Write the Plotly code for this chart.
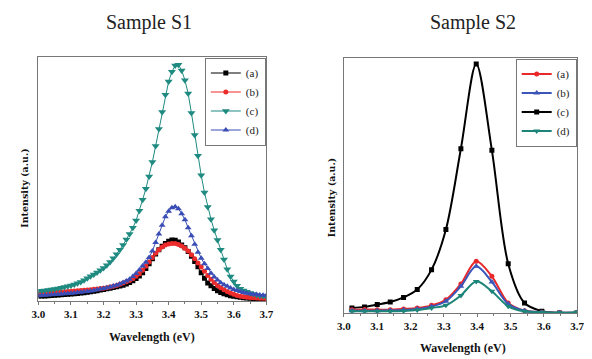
import plotly.graph_objects as go

# ---------------- data ----------------
energy_s1 = [round(3.0 + 0.01 * i, 2) for i in range(71)]

s1_a = [2.0, 2.1, 2.1, 2.2, 2.3, 2.4, 2.5, 2.6, 2.7, 2.8,
        2.9, 3.0, 3.1, 3.3, 3.4, 3.6, 3.8, 4.0, 4.2, 4.5,
        4.7, 5.0, 5.2, 5.5, 5.8, 6.1, 6.5, 7.0, 7.6, 8.3,
        9.2, 10.2, 11.6, 13.3, 15.3, 17.3, 19.3, 21.0, 22.4, 23.6,
        24.5, 25.0, 24.9, 24.2, 23.0, 21.8, 20.3, 18.3, 16.2, 14.0,
        11.6, 9.3, 7.4, 6.2, 5.1, 4.2, 3.5, 3.0, 2.6, 2.2,
        1.9, 1.7, 1.5, 1.3, 1.2, 1.1, 1.0, 0.9, 0.9, 0.8, 0.8]
s1_b = [3.4, 3.4, 3.5, 3.5, 3.6, 3.6, 3.7, 3.7, 3.8, 3.9,
        4.0, 4.1, 4.2, 4.3, 4.4, 4.5, 4.6, 4.8, 4.9, 5.1,
        5.2, 5.4, 5.7, 6.0, 6.4, 6.9, 7.4, 7.9, 8.4, 9.1,
        10.1, 11.2, 12.6, 14.2, 16.0, 17.8, 19.6, 21.0, 22.1, 22.9,
        23.4, 23.6, 23.6, 23.2, 22.5, 21.6, 20.5, 19.0, 17.3, 15.6,
        13.9, 12.2, 10.5, 8.9, 7.6, 6.4, 5.4, 4.6, 3.9, 3.3,
        2.8, 2.3, 1.9, 1.7, 1.5, 1.4, 1.3, 1.2, 1.1, 1.1, 1.0]
s1_c = [4.1, 4.2, 4.3, 4.5, 4.7, 4.9, 5.1, 5.4, 5.7, 6.0,
        6.4, 6.8, 7.3, 7.8, 8.5, 9.3, 10.1, 10.9, 11.7, 12.6,
        13.5, 14.7, 16.0, 17.5, 19.2, 21.0, 23.0, 25.2, 27.5, 30.0,
        33.0, 37.0, 41.5, 46.0, 51.0, 57.0, 63.5, 70.5, 77.5, 84.5,
        90.0, 94.0, 96.5, 96.8, 94.5, 90.5, 85.0, 77.0, 68.0, 59.5,
        51.5, 44.5, 38.5, 33.5, 29.0, 25.0, 21.0, 17.0, 13.0, 10.0,
        8.0, 6.3, 5.0, 4.3, 3.8, 3.3, 2.9, 2.5, 2.2, 2.0, 1.8]
s1_d = [2.2, 2.3, 2.4, 2.5, 2.6, 2.7, 2.8, 2.9, 3.0, 3.1,
        3.2, 3.3, 3.5, 3.6, 3.8, 3.9, 4.1, 4.3, 4.6, 4.9,
        5.1, 5.4, 5.7, 6.1, 6.5, 7.0, 7.6, 8.2, 8.9, 10.0,
        11.3, 12.7, 14.3, 15.9, 17.8, 20.5, 24.0, 27.5, 31.0, 34.5,
        36.8, 38.2, 38.6, 37.8, 35.8, 33.3, 30.0, 26.7, 23.3, 20.0,
        17.5, 15.3, 13.3, 11.4, 9.8, 8.6, 7.5, 6.7, 6.0, 5.3,
        4.7, 4.3, 3.9, 3.5, 3.2, 3.0, 2.8, 2.7, 2.5, 2.4, 2.3]

energy_s2 = [3.024, 3.062, 3.100, 3.139, 3.179, 3.220, 3.263, 3.306,
             3.351, 3.397, 3.444, 3.493, 3.542, 3.594, 3.647, 3.699]
s2_a = [1.3, 1.4, 1.3, 1.3, 1.6, 2.0, 3.0, 5.2, 11.4, 20.3, 14.4, 3.9, 0.9, 0.3, 0.1, 0.1]
s2_b = [0.9, 0.9, 0.9, 1.0, 1.2, 1.6, 2.5, 4.6, 10.5, 18.3, 12.2, 3.5, 0.9, 0.3, 0.1, 0.1]
s2_c = [2.0, 2.4, 3.3, 4.3, 6.1, 9.2, 17.0, 32.7, 64.4, 97.6, 63.8, 19.3, 3.9, 0.7, 0.0, 0.0]
s2_d = [0.65, 0.65, 0.65, 0.65, 0.8, 1.2, 2.0, 3.0, 6.9, 12.4, 8.5, 2.6, 0.65, 0.3, 0.1, 0.3]

labels = ["(a)", "(b)", "(c)", "(d)"]
x_ticks = [3.0, 3.1, 3.2, 3.3, 3.4, 3.5, 3.6, 3.7]

# ---------------- figure ----------------
# the page body has an 8px margin, so the figure sits at (8, 8) in the window
OFF = 8
W, H = 592 - OFF, 359 - OFF
def px(x):
    return (x - OFF) / W
def py(y):
    return 1 - (y - OFF) / H

fig = go.Figure()

serif = "Liberation Serif"

s1_styles = [
    (s1_a, "#000000", "square", 5),
    (s1_b, "#ee2b2b", "circle", 5),
    (s1_c, "#1e8a80", "triangle-down", 7),
    (s1_d, "#3a4db5", "triangle-up", 6),
]
for lab, (vals, col, sym, sz) in zip(labels, s1_styles):
    fig.add_trace(go.Scatter(
        x=energy_s1, y=vals, name=lab, mode="lines+markers",
        line=dict(color=col, width=1),
        marker=dict(symbol=sym, size=sz, color=col, line=dict(width=0)),
        xaxis="x", yaxis="y", legend="legend"))

s2_styles = [
    (s2_c, "#000000", "square", 5, 3),
    (s2_a, "#e8282b", "circle", 5, 1),
    (s2_b, "#3c55b8", "triangle-up", 6, 2),
    (s2_d, "#1c8478", "triangle-down", 6, 4),
]
s2_labels = {1: "(a)", 2: "(b)", 3: "(c)", 4: "(d)"}
for vals, col, sym, sz, rank in s2_styles:
    fig.add_trace(go.Scatter(
        x=energy_s2, y=vals, name=s2_labels[rank], mode="lines+markers",
        line=dict(color=col, width=2, shape="spline", smoothing=0.9),
        marker=dict(symbol=sym, size=sz, color=col, line=dict(width=0)),
        xaxis="x2", yaxis="y2", legend="legend2", legendrank=rank))

axis_common = dict(
    range=[3.0, 3.7], tickvals=x_ticks, ticktext=[f"{v:.1f}" for v in x_ticks],
    ticks="outside", ticklen=3, tickcolor="#777", tickwidth=1,
    minor=dict(dtick=0.05, ticks="outside", ticklen=2, tickcolor="#777"),
    showline=True, linecolor="#777", linewidth=1, mirror=True,
    showgrid=False, zeroline=False,
    tickfont=dict(family=serif, size=11, color="#111", weight="bold"),
)
yaxis_common = dict(
    range=[0, 100], showticklabels=False, ticks="", showgrid=False,
    zeroline=False, showline=True, linecolor="#777", linewidth=1, mirror=True,
)

fig.update_layout(
    width=W, height=H,
    margin=dict(l=0, r=0, t=0, b=0),
    paper_bgcolor="white", plot_bgcolor="white",
    xaxis=dict(domain=[px(32), px(265.5)], anchor="y", **axis_common),
    yaxis=dict(domain=[py(301), py(57)], anchor="x", **yaxis_common),
    xaxis2=dict(domain=[px(345), px(584)], anchor="y2", **axis_common),
    yaxis2=dict(domain=[py(313), py(58)], anchor="x2", **yaxis_common),
    legend=dict(x=px(265), y=py(57.5), xanchor="right", yanchor="top",
                bgcolor="white", bordercolor="#777", borderwidth=1,
                itemwidth=30, tracegroupgap=0,
                font=dict(family=serif, size=11, color="#222")),
    legend2=dict(x=px(583.5), y=py(58.5), xanchor="right", yanchor="top",
                 bgcolor="white", bordercolor="#777", borderwidth=1,
                 itemwidth=30, tracegroupgap=0,
                 font=dict(family=serif, size=11, color="#222")),
    showlegend=True,
)

ann = [
    dict(text="Sample S1", x=px(145), y=py(22), font=dict(family=serif, size=20, color="#222")),
    dict(text="Sample S2", x=px(477), y=py(22), font=dict(family=serif, size=20, color="#222")),
    dict(text="Wavelength (eV)", x=px(148), y=py(337),
         font=dict(family=serif, size=12, color="#111", weight="bold")),
    dict(text="Wavelength (eV)", x=px(467), y=py(348),
         font=dict(family=serif, size=12, color="#111", weight="bold")),
    dict(text="Intensity (a.u.)", x=px(18), y=py(188), textangle=-90,
         font=dict(family="DejaVu Serif", size=9.5, color="#111", weight="bold")),
    dict(text="Intensity (a.u.)", x=px(332), y=py(197), textangle=-90,
         font=dict(family="DejaVu Serif", size=9.5, color="#111", weight="bold")),
]
for a in ann:
    fig.add_annotation(xref="paper", yref="paper", showarrow=False,
                       xanchor="center", yanchor="middle", **a)

fig.write_html("out.html")
